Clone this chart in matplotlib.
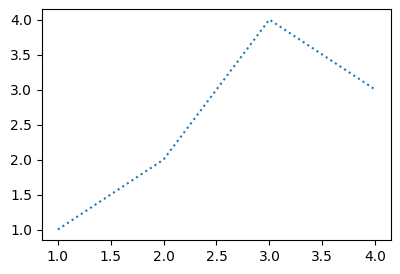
import matplotlib
matplotlib.use("Agg")
import matplotlib.pyplot as plt

x = [1, 2, 3, 4]
y = [1, 2, 4, 3]

fig = plt.figure(figsize=(4.0, 2.74), dpi=100)
ax = fig.add_axes([0.105, 0.124, 0.8725, 0.843])
ax.plot(x, y, linestyle=':', color='#1f77b4')
fig.savefig("out.png", dpi=100)
